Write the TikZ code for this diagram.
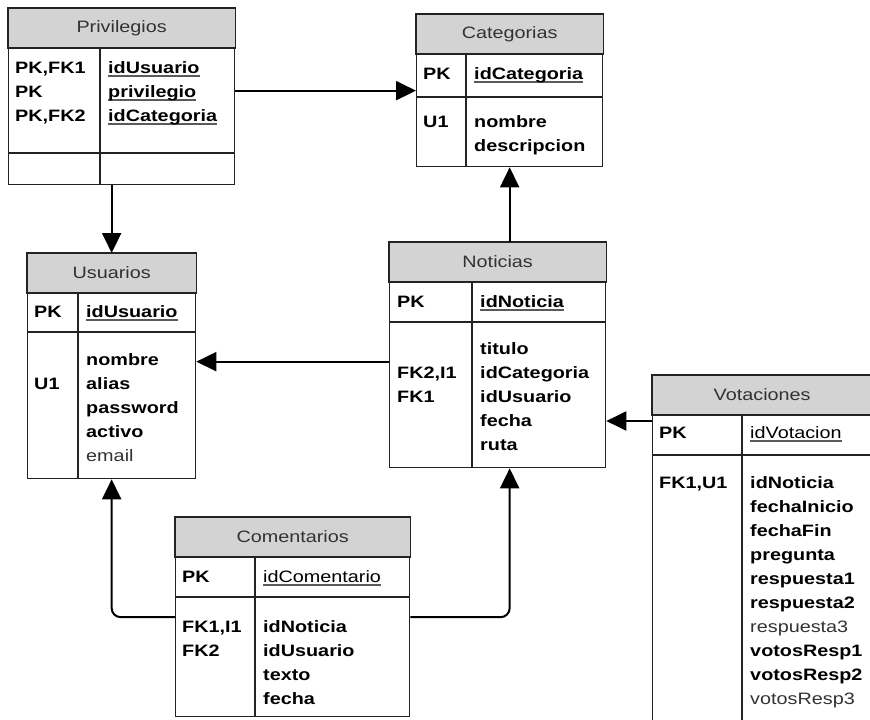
\documentclass[tikz,border=0pt]{standalone}
\usepackage{fontspec}
\setmainfont{Liberation Sans}
\usepackage{xcolor}
\usetikzlibrary{arrows.meta}

\definecolor{cabecera}{RGB}{211,211,211}
\definecolor{borde}{RGB}{35,35,35}
\definecolor{tenue}{RGB}{50,50,50}
\definecolor{raya}{RGB}{90,90,90}
\newcommand{\alto}{\rule{0pt}{13pt}}
\newsavebox{\cajapk}
\newcommand{\pkey}[1]{\sbox{\cajapk}{#1}\rlap{\color{raya}\rule[-3.5pt]{\wd\cajapk}{1.3pt}}\usebox{\cajapk}}

\begin{document}
\begin{tikzpicture}[x = 1pt, y = -1pt,
    marco/.style = {draw = borde, line width = 1.3pt},
    tabla/.style = {marco, inner sep = 0pt, anchor = north west},
    titulo/.style = {font = \fontsize{16.5}{24}\selectfont, text = tenue, xscale = 1.2, inner sep = 0pt},
    campo/.style = {font = \fontsize{16.5}{24}\selectfont\bfseries, align = left, anchor = north west, xscale = 1.2, inner sep = 0pt},
    fk/.style = {line width = 2pt, -{Triangle[length = 20pt, width = 19pt]}}]
        \clip (0, 0) rectangle (870, 720);

        % tablas: nombre/x/y/ancho/alto/fila clave/division/titulo
        \foreach \n/\x/\y/\w/\h/\k/\d/\t in {priv/8/8/226/176/145/92/Privilegios,
            cat/416/14/186/152/83/50/Categorias, usu/27/253/168/225/79/51/Usuarios,
            noti/389/242/216/225/80/83/Noticias, vot/652/375/219/350/80/90/Votaciones,
            com/175/517/234/199/80/80/Comentarios}
        {
        \node [tabla, minimum width = \w pt, minimum height = \h pt] (\n) at (\x, \y) {};
        \draw [marco, fill = cabecera] (\n.north west) rectangle ([yshift = -40pt]\n.north east);
        \node [titulo] (\n-tit) at ([yshift = -20pt]\n.north) {\t};
        \draw [marco] ([yshift = -\k pt]\n.north west) -- ([yshift = -\k pt]\n.north east);
        \draw [marco] ([xshift = \d pt, yshift = -40pt]\n.north west) -- ([xshift = \d pt]\n.south west);
        }

        \node [campo] (priv-k) at (15, 60) {\alto PK,FK1\\PK\\PK,FK2};
        \node [campo] (priv-a) at (108, 60) {\alto\pkey{idUsuario}\\\pkey{privilegio}\\\pkey{idCategoria}};

        \node [campo] (cat-pk) at (423, 66) {\alto PK};
        \node [campo] (cat-id) at (474, 66) {\alto\pkey{idCategoria}};
        \node [campo] (cat-k) at (423, 114) {\alto U1};
        \node [campo] (cat-a) at (474, 114) {\alto nombre\\descripcion};

        \node [campo] (usu-pk) at (34, 304) {\alto PK};
        \node [campo] (usu-id) at (86, 304) {\alto\pkey{idUsuario}};
        \node [campo] (usu-k) at (34, 352) {\alto\\U1};
        \node [campo] (usu-a) at (86, 352) {\alto nombre\\alias\\password\\activo\\{\mdseries\color{tenue}email}};

        \node [campo] (noti-pk) at (397, 294) {\alto PK};
        \node [campo] (noti-id) at (480, 294) {\alto\pkey{idNoticia}};
        \node [campo] (noti-k) at (397, 341) {\alto\\FK2,I1\\FK1};
        \node [campo] (noti-a) at (480, 341) {\alto titulo\\idCategoria\\idUsuario\\fecha\\ruta};

        \node [campo] (vot-pk) at (659, 425) {\alto PK};
        \node [campo] (vot-id) at (750, 425) {\alto\mdseries\pkey{idVotacion}};
        \node [campo] (vot-k) at (659, 475) {\alto FK1,U1};
        \node [campo] (vot-a) at (750, 475) {\alto idNoticia\\fechaInicio\\fechaFin\\pregunta\\respuesta1\\respuesta2\\{\mdseries\color{tenue}respuesta3}\\votosResp1\\votosResp2\\{\mdseries\color{tenue}votosResp3}};

        \node [campo] (com-pk) at (182, 569) {\alto PK};
        \node [campo] (com-id) at (263, 569) {\alto\mdseries\pkey{idComentario}};
        \node [campo] (com-k) at (182, 619) {\alto FK1,I1\\FK2};
        \node [campo] (com-a) at (263, 619) {\alto idNoticia\\idUsuario\\texto\\fecha};

        % relaciones
        \draw [fk] ([yshift = 6pt]priv.east) -- ([yshift = 6pt]priv.east -| cat.west);
        \draw [fk] (priv.south -| usu.north) -- (usu.north);
        \draw [fk] (noti.north -| cat.south) -- (cat.south);
        \draw [fk] ([yshift = -6.5pt]noti.west) -- ([yshift = -6.5pt]noti.west -| usu.east);
        \draw [fk] ([yshift = -46pt]vot.north west) -- ([yshift = -46pt]vot.north west -| noti.east);
        \draw [fk, rounded corners = 9pt] (com.west) -| (usu.south);
        \draw [fk, rounded corners = 9pt] (com.east) -| (noti.south -| cat.south);
    \end{tikzpicture}
\end{document}
